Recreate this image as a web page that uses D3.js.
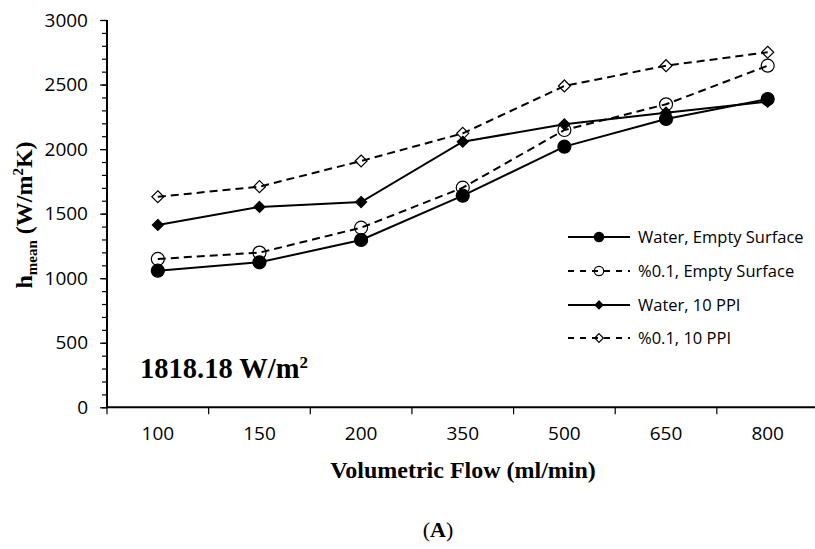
<!DOCTYPE html>
<html>
<head>
<meta charset="utf-8">
<script src="https://cdn.jsdelivr.net/npm/d3@7"></script>
<style>
  html, body { margin: 0; padding: 0; background: #fff; }
  svg { display: block; }
</style>
</head>
<body>
<svg id="chart" width="815" height="549"></svg>
<script>
// ---- data ----
const categories = ["100", "150", "200", "350", "500", "650", "800"];
const waterEmpty = [1058, 1123, 1296, 1639, 2019, 2233, 2388];
const nanoEmpty  = [1149, 1198, 1391, 1701, 2148, 2347, 2646];
const water10PPI = [1412, 1552, 1590, 2057, 2192, 2282, 2367];
const nano10PPI  = [1631, 1709, 1908, 2122, 2489, 2646, 2750];
const seriesNames = ["Water, Empty Surface", "%0.1, Empty Surface", "Water, 10 PPI", "%0.1, 10 PPI"];
const yTicks = [0, 500, 1000, 1500, 2000, 2500, 3000];

(function () {
const series = [
  { name: seriesNames[0], values: waterEmpty, dashed: false, marker: "circle",  filled: true },
  { name: seriesNames[1], values: nanoEmpty,  dashed: true,  marker: "circle",  filled: false },
  { name: seriesNames[2], values: water10PPI, dashed: false, marker: "diamond", filled: true },
  { name: seriesNames[3], values: nano10PPI,  dashed: true,  marker: "diamond", filled: false }
];

const svg = d3.select("#chart");
const pL = 107, pR = 818.5, pT = 20, pB = 407.3;

const x = d3.scaleBand().domain(categories).range([pL, pR]).padding(0);
const y = d3.scaleLinear().domain([0, 3000]).range([pB, pT]);
const cx = c => x(c) + x.bandwidth() / 2;

const tickFont = "'Open Sans', sans-serif";
const serif = "'Liberation Serif', 'Times New Roman', serif";

// ---- y axis ----
const yMinor = svg.append("g").attr("transform", `translate(${pL},0)`)
  .call(d3.axisLeft(y).tickValues(d3.range(0, 3001, 100)).tickSize(5).tickFormat(""));
yMinor.select(".domain").remove();
yMinor.selectAll("line").attr("stroke", "#000").attr("stroke-width", 1.2);

const yAxis = svg.append("g").attr("transform", `translate(${pL},0)`)
  .call(d3.axisLeft(y).tickValues(yTicks).tickFormat(d3.format("d")).tickSize(7).tickPadding(12).tickSizeOuter(0));
yAxis.select(".domain").attr("stroke", "#000").attr("stroke-width", 2).attr("d", `M0,${pB}V${pT}`);
yAxis.selectAll("line").attr("stroke", "#000").attr("stroke-width", 1.2);
yAxis.selectAll("text").attr("font-family", tickFont).attr("font-size", "19px").attr("fill", "#000");

// ---- x axis ----
const xAxis = svg.append("g").attr("transform", `translate(0,${pB})`)
  .call(d3.axisBottom(x).tickSize(0).tickPadding(19));
xAxis.select(".domain").attr("stroke", "#000").attr("stroke-width", 2).attr("d", `M${pL},0H${pR}`);
xAxis.selectAll("text").attr("font-family", tickFont).attr("font-size", "19px").attr("fill", "#000");
const bounds = categories.map(c => x(c)).concat([x(categories[categories.length - 1]) + x.bandwidth()]);
xAxis.selectAll("line.bound").data(bounds).enter().append("line")
  .attr("class", "bound")
  .attr("x1", d => d).attr("x2", d => d)
  .attr("y1", 0).attr("y2", 7)
  .attr("stroke", "#000").attr("stroke-width", 1.2);

// ---- lines ----
const line = d3.line().x((d, i) => cx(categories[i])).y(d => y(d));
const dash = "8,5";

series.forEach(s => {
  svg.append("path")
    .datum(s.values)
    .attr("d", line)
    .attr("fill", "none")
    .attr("stroke", "#000")
    .attr("stroke-width", 2)
    .attr("stroke-dasharray", s.dashed ? dash : null);
});

function drawMarker(g, s, px, py, scale) {
  if (s.marker === "circle") {
    const r = 6.5 * scale;
    g.append("circle").attr("cx", px).attr("cy", py).attr("r", r)
      .attr("fill", s.filled ? "#000" : "none")
      .attr("stroke", "#000").attr("stroke-width", 1.2);
  } else {
    const h = (s.filled ? 5.5 : 6) * scale;
    g.append("path")
      .attr("d", `M${px},${py - h}L${px + h},${py}L${px},${py + h}L${px - h},${py}Z`)
      .attr("fill", s.filled ? "#000" : "none")
      .attr("stroke", "#000").attr("stroke-width", 1.2);
  }
}

const mk = svg.append("g");
series.forEach(s => {
  s.values.forEach((v, i) => drawMarker(mk, s, cx(categories[i]), y(v), 1));
});

// ---- legend ----
const legendRows = [237, 271, 305, 338];
const lg = svg.append("g");
series.forEach((s, i) => {
  const ly = legendRows[i];
  lg.append("line").attr("x1", 568).attr("x2", 630).attr("y1", ly).attr("y2", ly)
    .attr("stroke", "#000").attr("stroke-width", 2)
    .attr("stroke-dasharray", s.dashed ? "6,6" : null);
  drawMarker(lg, s, 599, ly, 0.72);
  lg.append("text").attr("x", 638).attr("y", ly).attr("dy", "0.35em")
    .attr("font-family", tickFont).attr("font-size", "16.5px").attr("fill", "#000")
    .text(s.name);
});

// ---- annotation ----
const ann = svg.append("text").attr("x", 140).attr("y", 378)
  .attr("font-family", serif).attr("font-weight", "bold").attr("font-size", "28.5px").attr("fill", "#000");
ann.append("tspan").text("1818.18 W/m");
ann.append("tspan").attr("font-size", "17px").attr("dy", "-10").text("2");

// ---- axis titles ----
svg.append("text").attr("x", 463).attr("y", 478).attr("text-anchor", "middle")
  .attr("font-family", serif).attr("font-weight", "bold").attr("font-size", "24px").attr("fill", "#000")
  .text("Volumetric Flow (ml/min)");

const yt = svg.append("text")
  .attr("transform", "translate(32,215) rotate(-90)")
  .attr("text-anchor", "middle")
  .attr("font-family", serif).attr("font-weight", "bold").attr("font-size", "24px").attr("fill", "#000");
yt.append("tspan").text("h");
yt.append("tspan").attr("font-size", "15px").attr("dy", "5").text("mean");
yt.append("tspan").attr("dy", "-5").text(" (W/m");
yt.append("tspan").attr("font-size", "15px").attr("dy", "-9").text("2");
yt.append("tspan").attr("dy", "9").text("K)");

// ---- panel label ----
const pl = svg.append("text").attr("x", 438).attr("y", 537).attr("text-anchor", "middle")
  .attr("font-family", serif).attr("font-size", "22px").attr("fill", "#000");
pl.append("tspan").text("(");
pl.append("tspan").attr("font-weight", "bold").text("A");
pl.append("tspan").text(")");
})();
</script>
</body>
</html>
